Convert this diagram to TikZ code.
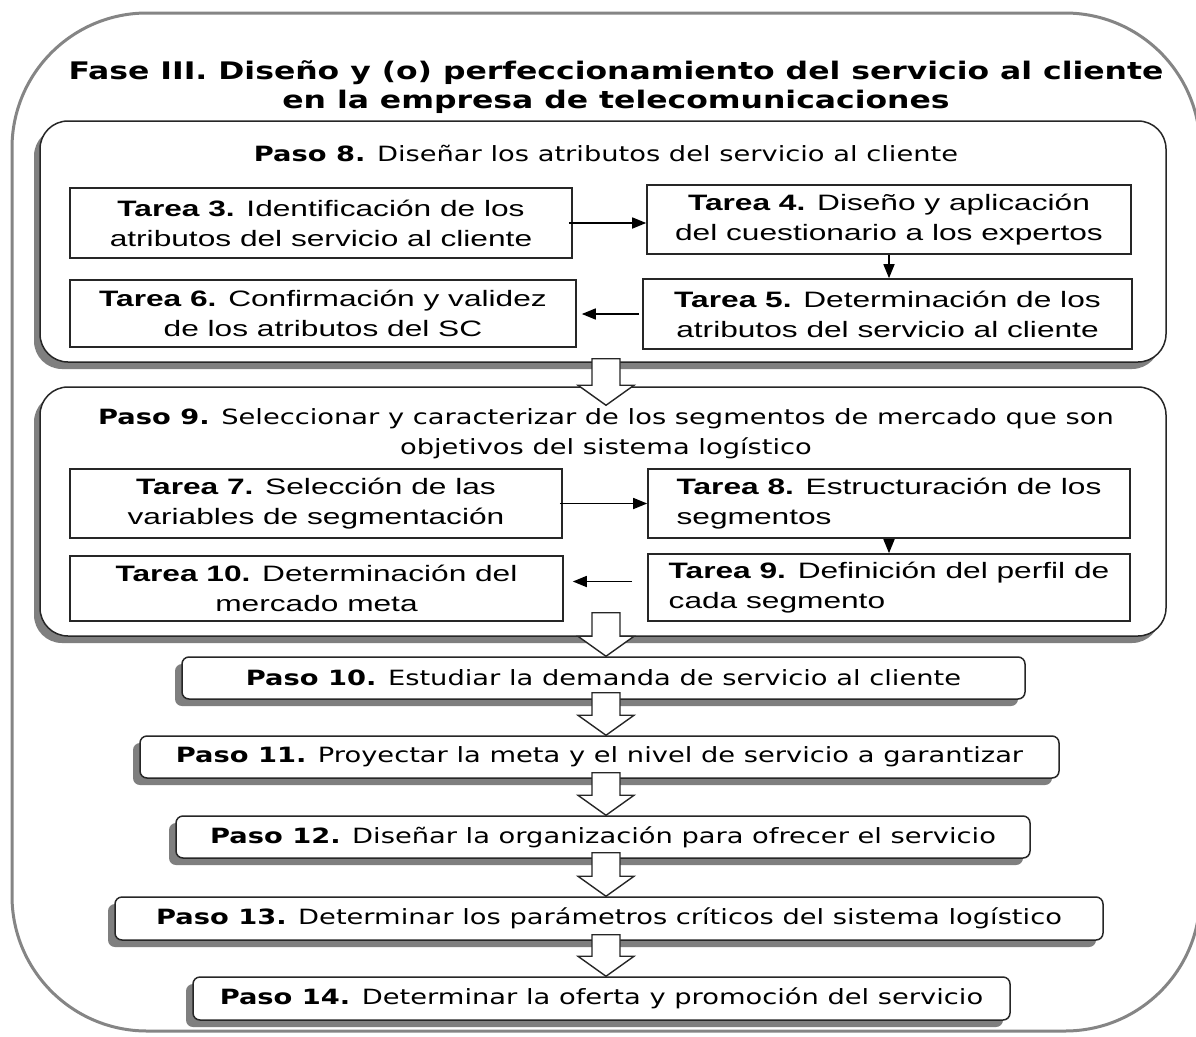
\documentclass[tikz,border=0pt]{standalone}
\usepackage{fontspec}
\usetikzlibrary{calc,arrows.meta,shadows}
\newfontfamily\vfont[FakeStretch=1.3]{DejaVu Sans}
\newfontfamily\afont[FakeStretch=1.42]{Liberation Sans}
\definecolor{shadowgray}{HTML}{7F7F7F}
\definecolor{framegray}{HTML}{858585}
\tikzset{
  frame/.style={draw=framegray, line width=3pt, rounded corners=135pt},
  container/.style={draw=black!85, line width=1.5pt, rounded corners=28pt, fill=white,
    inner sep=0pt, drop shadow={shadow xshift=-6pt, shadow yshift=-7pt, fill=shadowgray, opacity=1}},
  pasobox/.style={draw=black!85, line width=1.5pt, rounded corners=7pt, fill=white,
    inner sep=0pt, font=\vfont\fontsize{21}{30}\selectfont,
    drop shadow={shadow xshift=-7pt, shadow yshift=-7pt, fill=shadowgray, opacity=1}},
  tarea/.style={draw=black!85, line width=1.6pt, fill=white, inner sep=0pt, align=center,
    font=\afont\fontsize{22.3}{30}\selectfont},
  header/.style={font=\vfont\fontsize{21}{30}\selectfont, align=center, inner sep=0pt},
  sarrow/.style={line width=1.6pt, -{Triangle[length=14pt,width=11pt]}},
  barrow/.style={draw=black!85, line width=1.4pt, fill=white, line join=miter},
}
\newcommand\blockarrow[4]{%
  \draw[barrow] let \p1=(#1.south), \p2=(#2.north) in
    ({592pt},{\y1+#3}) -- ({620pt},{\y1+#3}) -- ({620pt},{\y2-#4+20pt}) --
    ({634pt},{\y2-#4+20pt}) -- ({606pt},{\y2-#4}) -- ({578pt},{\y2-#4+20pt}) --
    ({592pt},{\y2-#4+20pt}) -- cycle;}
\begin{document}
\begin{tikzpicture}[x=1pt,y=-1pt]
\useasboundingbox (0,0) rectangle (1196,1036);
\fill[white] (0,0) rectangle (1196,1036);
% outer frame
\draw[frame] (12,13) rectangle (1200,1031);
\node[font=\vfont\bfseries\fontsize{24.2}{29}\selectfont, align=center, inner sep=0pt] (title) at (616,87)
  {Fase III. Diseño y (o) perfeccionamiento del servicio al cliente\\en la empresa de telecomunicaciones};
% Paso 8 container
\node[container, minimum width=1126pt, minimum height=241pt] (p8) at (603,241.5) {};
\node[header] (p8t) at (606,153) {\textbf{Paso 8.} Diseñar los atributos del servicio al cliente};
\node[tarea, minimum width=502pt, minimum height=70pt] (t3) at (321,223)
  {\textbf{Tarea 3.} Identificación de los\\atributos del servicio al cliente};
\node[tarea, minimum width=484pt, minimum height=69pt] (t4) at (889,219.5)
  {\textbf{Tarea 4.} Diseño y aplicación\\del cuestionario a los expertos};
\node[tarea, minimum width=489pt, minimum height=70pt] (t5) at (887.5,314)
  {\textbf{Tarea 5.} Determinación de los\\atributos del servicio al cliente};
\node[tarea, minimum width=506pt, minimum height=67pt] (t6) at (323,313.5)
  {\textbf{Tarea 6.} Confirmación y validez\\de los atributos del SC};
\draw[sarrow] ([xshift=-4pt]t3.east) -- (t3.east -| t4.west);
\draw[sarrow] (t4.south) -- (t4.south |- t5.north);
\draw[sarrow, shorten <=3pt, shorten >=5pt] (t5.west) -- (t5.west -| t6.east);
% Paso 9 container
\node[container, minimum width=1126pt, minimum height=249pt] (p9) at (603,511.5) {};
\node[header] (p9t) at (606,434) {\textbf{Paso 9.} Seleccionar y caracterizar de los segmentos de mercado que son\\objetivos del sistema logístico};
\node[tarea, minimum width=492pt, minimum height=69pt] (t7) at (316,503.5)
  {\textbf{Tarea 7.} Selección de las\\variables de segmentación};
\node[tarea, minimum width=482pt, minimum height=69pt, align=left] (t8) at (889,503.5)
  {\textbf{Tarea 8.} Estructuración de los\\segmentos};
\node[tarea, minimum width=482pt, minimum height=67pt, align=left] (t9) at (889,587.5)
  {\textbf{Tarea 9.} Definición del perfil de\\cada segmento};
\node[tarea, minimum width=493pt, minimum height=65pt] (t10) at (316.5,588.5)
  {\textbf{Tarea 10.} Determinación del\\mercado meta};
\draw[sarrow, shorten <=-3pt] (t7.east) -- (t7.east -| t8.west);
\draw[sarrow] (t8.south) -- (t8.south |- t9.north);
\draw[sarrow, shorten <=15pt, shorten >=9pt] ([yshift=6pt]t9.west) -- ([yshift=6pt]t9.west -| t10.east);
% Paso boxes
\node[pasobox, minimum width=843pt, minimum height=42pt] (p10) at (603.5,678)
  {\textbf{Paso 10.} Estudiar la demanda de servicio al cliente};
\node[pasobox, minimum width=919pt, minimum height=42pt] (p11) at (599.5,757)
  {\textbf{Paso 11.} Proyectar la meta y el nivel de servicio a garantizar};
\node[pasobox, minimum width=854pt, minimum height=42pt] (p12) at (603,837)
  {\textbf{Paso 12.} Diseñar la organización para ofrecer el servicio};
\node[pasobox, minimum width=988pt, minimum height=43pt] (p13) at (609,918.5)
  {\textbf{Paso 13.} Determinar los parámetros críticos del sistema logístico};
\node[pasobox, minimum width=817pt, minimum height=43pt] (p14) at (601.5,998.5)
  {\textbf{Paso 14.} Determinar la oferta y promoción del servicio};
% block arrows
\blockarrow{p8}{p9}{4pt}{19pt}
\blockarrow{p9}{p10}{24pt}{0pt}
\blockarrow{p10}{p11}{7pt}{0pt}
\blockarrow{p11}{p12}{6pt}{0pt}
\blockarrow{p12}{p13}{6pt}{0pt}
\blockarrow{p13}{p14}{6pt}{0pt}
\end{tikzpicture}
\end{document}
